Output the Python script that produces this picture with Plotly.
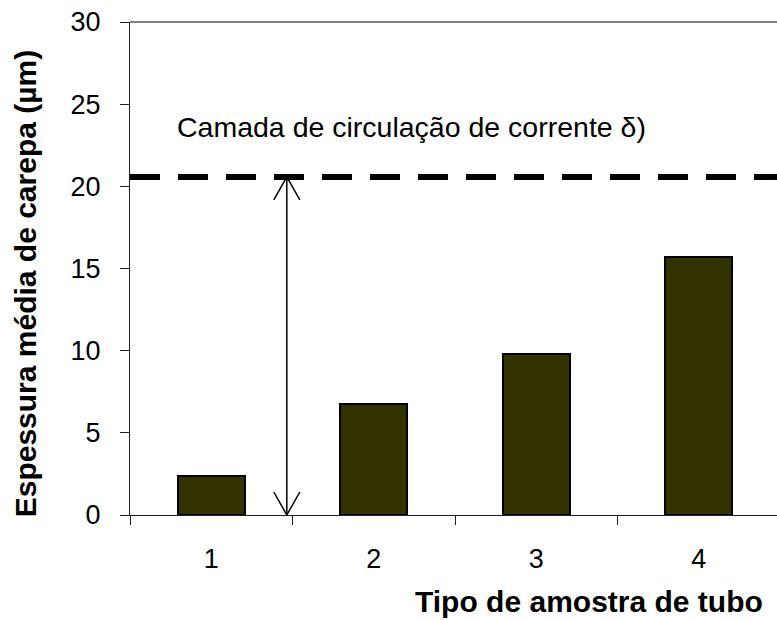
import plotly.graph_objects as go

categories = [1, 2, 3, 4]
tick_labels = ["1", "2", "3", "4"]
espessura = [2.37, 6.76, 9.8, 15.72]
delta = 20.57  # camada de circulação de corrente
arrow_x = 1.465
y_ticks = [0, 5, 10, 15, 20, 25, 30]

W, H = 777, 620
L, R, T, B = 130, 0, 22, 105
px_per_cat = 162.5
x_max = 0.5 + (W - L - R) / px_per_cat
y_max = 30
px_per_unit = (H - T - B) / y_max

FONT = "Liberation Sans, Arial"

fig = go.Figure()
fig.add_trace(go.Bar(
    x=categories, y=espessura, width=0.41,
    marker=dict(color="#333300", line=dict(color="black", width=2)),
    showlegend=False, hoverinfo="skip"))

# dashed delta line
fig.add_trace(go.Scatter(
    x=[0.5, x_max], y=[delta, delta], mode="lines",
    line=dict(color="black", width=6, dash="30px,18px"),
    showlegend=False, hoverinfo="skip"))

# double-headed arrow
hw = 13 / px_per_cat
hh = 23 / px_per_unit
fig.add_trace(go.Scatter(
    x=[arrow_x, arrow_x, None,
       arrow_x - hw, arrow_x, arrow_x + hw, None,
       arrow_x - hw, arrow_x, arrow_x + hw],
    y=[0, delta, None,
       delta - hh, delta, delta - hh, None,
       hh, 0, hh],
    mode="lines", line=dict(color="black", width=1.5),
    showlegend=False, hoverinfo="skip"))

fig.add_annotation(
    x=0.5 + 45 / px_per_cat, y=delta + 50 / px_per_unit, xref="x", yref="y",
    text="Camada de circulação de corrente δ)", showarrow=False,
    xanchor="left", yanchor="middle",
    font=dict(family=FONT, size=28.5, color="black"))

fig.add_annotation(
    x=1, y=0, xref="paper", yref="paper", xshift=-12, yshift=-86,
    text="<b>Tipo de amostra de tubo</b>", showarrow=False,
    xanchor="right", yanchor="middle",
    font=dict(family=FONT, size=30, color="black"))

fig.add_annotation(
    x=0, y=0.47, xref="paper", yref="paper", xshift=-105,
    text="<b>Espessura média de carepa (µm)</b>", showarrow=False,
    textangle=-90, xanchor="center", yanchor="middle",
    font=dict(family=FONT, size=30, color="black"))

fig.update_layout(
    width=W, height=H,
    margin=dict(l=L, r=R, t=T, b=B),
    plot_bgcolor="white", paper_bgcolor="white",
    bargap=0,
    font=dict(family=FONT, size=27, color="black"),
    shapes=[dict(type="line", xref="paper", yref="paper", x0=0, x1=1, y0=1, y1=1,
                 line=dict(color="#808080", width=2))],
)
fig.update_xaxes(
    range=[0.5, x_max], tickvals=categories, ticktext=tick_labels,
    ticks="", ticklabelstandoff=19,
    showline=True, linecolor="#222", linewidth=1.3,
    showgrid=False, zeroline=False,
    minor=dict(tickvals=[c + 0.5 for c in [0] + categories], ticks="outside",
               ticklen=9, tickcolor="#222", tickwidth=1.3, showgrid=False),
    tickfont=dict(size=27))
fig.update_yaxes(
    range=[0, y_max], tickvals=y_ticks,
    ticks="outside", ticklen=9, tickcolor="#222", tickwidth=1.3,
    ticklabelstandoff=14,
    showline=True, linecolor="#222", linewidth=1.3,
    showgrid=False, zeroline=False, tickfont=dict(size=27))

fig.write_html("out.html", config={"displayModeBar": False},
               post_script="document.body.style.margin='0';")
